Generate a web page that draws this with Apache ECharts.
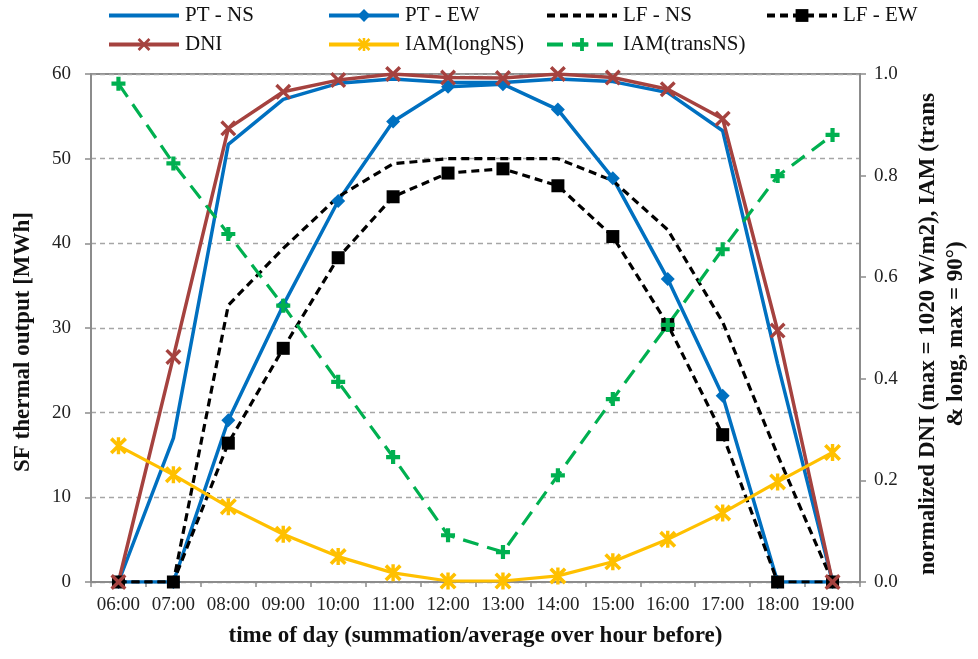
<!DOCTYPE html>
<html>
<head>
<meta charset="utf-8">
<script src="https://cdn.jsdelivr.net/npm/echarts@6/dist/echarts.min.js"></script>
<style>html,body{margin:0;padding:0;background:#fff}#c{width:978px;height:659px}</style>
</head>
<body>
<div id="c"></div>
<script>
// ---- data ----
const categories = ['06:00','07:00','08:00','09:00','10:00','11:00','12:00','13:00','14:00','15:00','16:00','17:00','18:00','19:00'];
// left axis: SF thermal output [MWh]
const ptNS = [0, 17.0, 51.7, 57.0, 58.9, 59.4, 59.0, 59.0, 59.4, 59.1, 57.8, 53.3, 25.8, 0];
const ptEW = [0, 0, 19.1, 32.7, 45.0, 54.4, 58.5, 58.8, 55.8, 47.7, 35.8, 22.0, 0, 0];
const lfNS = [0, 0, 32.7, 39.4, 45.5, 49.4, 50.0, 50.0, 50.0, 47.4, 41.6, 30.7, 15.0, 0];
const lfEW = [0, 0, 16.4, 27.6, 38.3, 45.5, 48.3, 48.8, 46.8, 40.8, 30.4, 17.4, 0, 0];
// right axis: normalized values
const dni = [0, 0.443, 0.893, 0.965, 0.988, 1.0, 0.993, 0.992, 1.0, 0.993, 0.970, 0.912, 0.495, 0];
const iamLong = [0.268, 0.211, 0.148, 0.094, 0.050, 0.018, 0.002, 0.002, 0.012, 0.040, 0.084, 0.136, 0.197, 0.255];
const iamTrans = [0.981, 0.824, 0.685, 0.544, 0.394, 0.246, 0.092, 0.059, 0.210, 0.360, 0.506, 0.655, 0.799, 0.880];
const leftTicks = [0, 60, 10];
const rightTicks = [0, 1, 0.2];

const FONT = 'Liberation Serif';
const BLUE = '#0070C0', RED = '#A5423F', YEL = '#FFC000', GRN = '#00B050', BLK = '#000000';
const SYM_X = 'path://M3,0 L10,7 L17,0 L20,3 L13,10 L20,17 L17,20 L10,13 L3,20 L0,17 L7,10 L0,3 Z';
const SYM_AST = 'path://M3,0 L10,7 L17,0 L20,3 L13,10 L20,17 L17,20 L10,13 L3,20 L0,17 L7,10 L0,3 Z M8,0 L12,0 L12,20 L8,20 Z';
const SYM_PLUS = 'path://M7,0 L13,0 L13,7 L20,7 L20,13 L13,13 L13,20 L7,20 L7,13 L0,13 L0,7 L7,7 Z';

const chart = echarts.init(document.getElementById('c'), null, {renderer: 'canvas'});

function lg(name, left, top, noMarker) {
  const item = noMarker ? {name: name, itemStyle: {opacity: 0}} : {name: name};
  return {
    data: [item], left: left, top: top, padding: 0, itemWidth: 70, itemHeight: 16, itemGap: 0,
    lineStyle: {width: 4},
    textStyle: {fontFamily: FONT, fontSize: 21, color: '#111', padding: [0,0,0,1]}
  };
}

const axisLabelStyle = {fontFamily: FONT, fontSize: 19, color: '#222'};
const axisNameStyle = {fontFamily: FONT, fontSize: 23, fontWeight: 'bold', color: '#111'};

chart.setOption({
  animation: false,
  backgroundColor: '#fff',
  legend: [
    lg('PT - NS', 107, 5, true), lg('PT - EW', 327, 5), lg('LF - NS', 545, 5, true), lg('LF - EW', 765, 5),
    lg('DNI', 107, 34), lg('IAM(longNS)', 327, 34), lg('IAM(transNS)', 545, 34)
  ],
  grid: {left: 91, right: 110, top: 74, bottom: 77, show: true, borderColor: '#8c8c8c', borderWidth: 2, containLabel: false},
  xAxis: {
    type: 'category', data: categories, boundaryGap: true,
    axisLine: {lineStyle: {color: '#8c8c8c', width: 2}},
    axisTick: {show: true, alignWithLabel: false, length: 5, lineStyle: {color: '#8c8c8c', width: 1.5}},
    axisLabel: Object.assign({margin: 14, interval: 0}, axisLabelStyle),
    name: 'time of day (summation/average over hour before)',
    nameLocation: 'middle', nameGap: 43, nameTextStyle: axisNameStyle
  },
  yAxis: [
    {
      type: 'value', min: leftTicks[0], max: leftTicks[1], interval: leftTicks[2],
      axisLine: {show: true, lineStyle: {color: '#8c8c8c', width: 2}},
      axisTick: {show: true, length: 6, lineStyle: {color: '#8c8c8c', width: 1.5}},
      axisLabel: Object.assign({margin: 20}, axisLabelStyle),
      splitLine: {show: true, lineStyle: {color: '#a6a6a6', width: 1.3, type: [5, 4]}},
      name: 'SF thermal output [MWh]', nameLocation: 'middle', nameGap: 56, nameRotate: 90,
      nameTextStyle: Object.assign({padding: [0, 28, 0, 0]}, axisNameStyle)
    },
    {
      type: 'value', min: rightTicks[0], max: rightTicks[1], interval: rightTicks[2], position: 'right',
      axisLine: {show: true, lineStyle: {color: '#8c8c8c', width: 2}},
      axisTick: {show: true, length: 6, lineStyle: {color: '#8c8c8c', width: 1.5}},
      axisLabel: Object.assign({margin: 14, formatter: v => v.toFixed(1)}, axisLabelStyle),
      splitLine: {show: false},
      name: 'normalized DNI (max = 1020 W/m2), IAM (trans\n& long, max = 90°)',
      nameLocation: 'middle', nameGap: 54, nameRotate: 90,
      nameTextStyle: Object.assign({lineHeight: 28, align: 'center', padding: [0, 12, 0, 0]}, axisNameStyle)
    }
  ],
  series: [
    {name: 'PT - NS', type: 'line', data: ptNS, yAxisIndex: 0, symbol: 'none', showSymbol: false,
     lineStyle: {color: BLUE, width: 3.5}, itemStyle: {color: BLUE}},
    {name: 'PT - EW', type: 'line', data: ptEW, yAxisIndex: 0, symbol: 'diamond', symbolSize: 14,
     lineStyle: {color: BLUE, width: 3.5}, itemStyle: {color: BLUE}},
    {name: 'LF - NS', type: 'line', data: lfNS, yAxisIndex: 0, symbol: 'none', showSymbol: false,
     lineStyle: {color: BLK, width: 3.2, type: [8, 5]}, itemStyle: {color: BLK}},
    {name: 'LF - EW', type: 'line', data: lfEW, yAxisIndex: 0, symbol: 'rect', symbolSize: 13,
     lineStyle: {color: BLK, width: 3.2, type: [8, 5]}, itemStyle: {color: BLK}},
    {name: 'DNI', type: 'line', data: dni, yAxisIndex: 1, symbol: SYM_X, symbolSize: 16,
     lineStyle: {color: RED, width: 3.5}, itemStyle: {color: RED}},
    {name: 'IAM(longNS)', type: 'line', data: iamLong, yAxisIndex: 1, symbol: SYM_AST, symbolSize: 17,
     lineStyle: {color: YEL, width: 3.2}, itemStyle: {color: YEL}},
    {name: 'IAM(transNS)', type: 'line', data: iamTrans, yAxisIndex: 1, symbol: SYM_PLUS, symbolSize: 14,
     lineStyle: {color: GRN, width: 3.2, type: [16, 9]}, itemStyle: {color: GRN}}
  ]
});
</script>
</body>
</html>
